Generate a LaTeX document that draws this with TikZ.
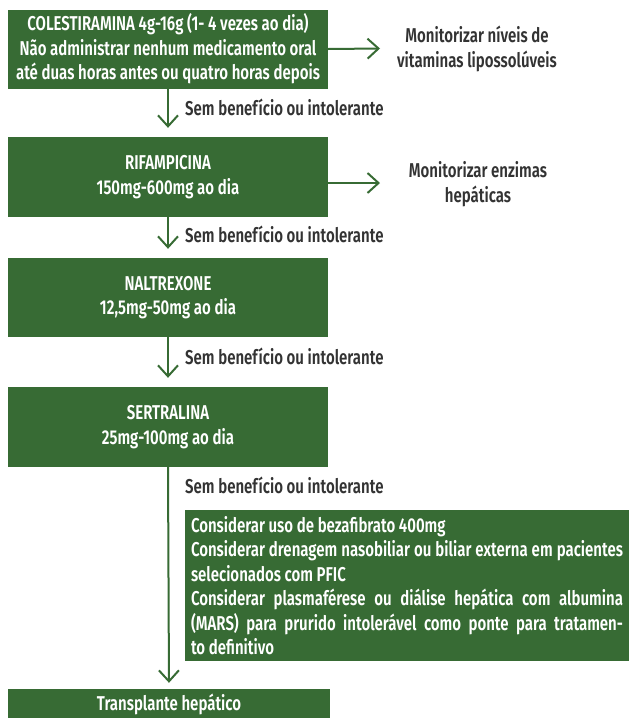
\documentclass[tikz,border=0pt]{standalone}
\usepackage{fontspec}
\setmainfont{Fira Sans}[UprightFont={* SemiBold}, FakeStretch=0.75]
\usetikzlibrary{arrows.meta}
\definecolor{boxgreen}{RGB}{55,107,52}
\definecolor{notegray}{RGB}{51,51,51}
\begin{document}
\begin{tikzpicture}[x=1pt,y=-1pt,
  every node/.style={font=\fontsize{20}{24.5}\selectfont},
  drug/.style={fill=boxgreen, text=white, minimum width=320pt,
    minimum height=80pt, align=center, inner sep=0pt},
  note/.style={text=notegray, align=center, inner sep=0pt},
  lbl/.style={text=notegray, anchor=west, inner sep=0pt},
  flow/.style={draw=boxgreen, line width=2pt,
    -{Straight Barb[length=11pt,width=20pt,line width=2pt]}}]

\useasboundingbox (0,0) rectangle (631,718);

% treatment steps
\node[drug, minimum height=79pt] (b1) at (168,49)
  {COLESTIRAMINA 4g-16g (1- 4 vezes ao dia)\\
   Não administrar nenhum medicamento oral\\
   até duas horas antes ou quatro horas depois};
\node[drug] (b2) at (168,177) {RIFAMPICINA\\150mg-600mg ao dia};
\node[drug, minimum height=79pt] (b3) at (168,297.5) {NALTREXONE\\12,5mg-50mg ao dia};
\node[drug] (b4) at (168,427) {SERTRALINA\\25mg-100mg ao dia};
\node[drug, minimum width=444pt, minimum height=151pt, text width=432pt,
  align=justify] (b5) at (407,585.5)
  {Considerar uso de bezafibrato 400mg\\
   Considerar drenagem nasobiliar ou biliar externa em pacientes\linebreak
   selecionados com PFIC\\
   Considerar plasmaférese ou diálise hepática com albumina\linebreak
   (MARS) para prurido intolerável como ponte para tratamen-\linebreak
   to definitivo};
\node[drug, minimum width=322pt, minimum height=30pt] (b6) at (169,704)
  {Transplante hepático};

% monitoring notes
\node[note] (n1) at (477,49) {Monitorizar níveis de\\vitaminas lipossolúveis};
\node[note] (n2) at (478,184) {Monitorizar enzimas\\hepáticas};
\coordinate (t1) at (380,48.5);
\coordinate (t2) at (380,183);

% connectors
\draw[flow] (b1.east) -- (t1);
\draw[flow] ([yshift=-6pt]b2.east) -- (t2);
\draw[flow, shorten >=9pt] (b1.south) -- (b2.north);
\draw[flow, shorten >=9pt] (b2.south) -- (b3.north);
\draw[flow, shorten >=9pt] (b3.south) -- (b4.north);
\draw[flow, shorten >=6pt] (b4.south) -- (b6.north);

% connector labels
\node[lbl] (l1) at (185,107) {Sem benefício ou intolerante};
\node[lbl] (l2) at (185,234) {Sem benefício ou intolerante};
\node[lbl] (l3) at (185,356) {Sem benefício ou intolerante};
\node[lbl] (l4) at (185,485) {Sem benefício ou intolerante};
\end{tikzpicture}
\end{document}
